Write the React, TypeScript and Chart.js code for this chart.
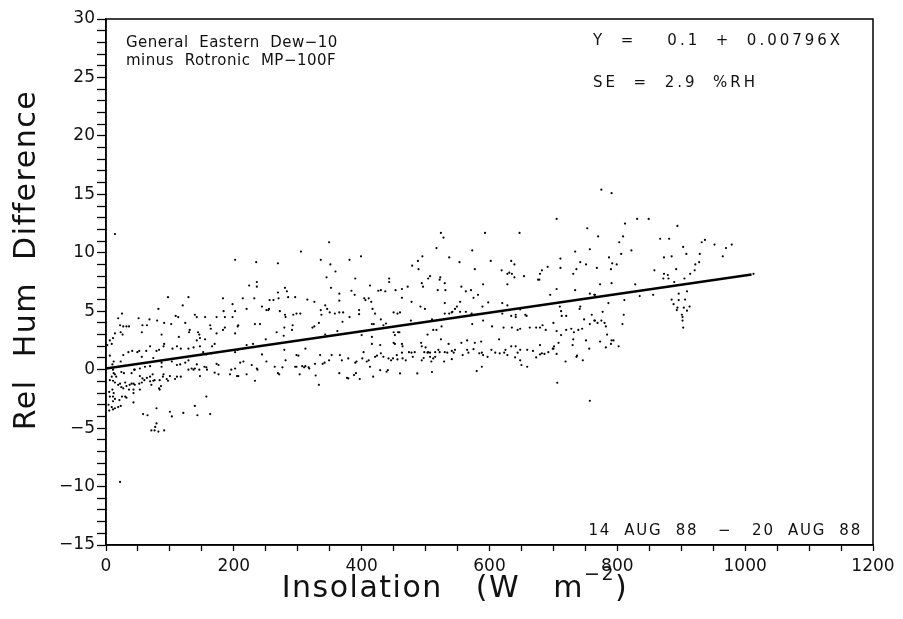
import React, { useEffect, useRef } from 'react';
import { Chart, registerables } from 'chart.js';

Chart.register(...registerables);

// Axis ranges and tick labels
const xRange = [0, 1200];
const yRange = [-15, 30];
const xTickLabels = [0, 200, 400, 600, 800, 1000, 1200];
const yTickLabels = [-15, -10, -5, 0, 5, 10, 15, 20, 25, 30];

// Regression line (fit: Y = 0.1 + 0.00796X)
const lineX = [0, 1010];
const lineY = [0.1, 8.14];

// Annotation texts
const sensorLine1 = 'General  Eastern  Dew\u221210';
const sensorLine2 = 'minus  Rotronic  MP\u2212100F';
const fitText = 'Y  =    0.1  +  0.00796X';
const seText = 'SE  =  2.9  %RH';
const dateText = '14  AUG  88   \u2212   20  AUG  88';
const yTitle = 'Rel  Hum  Difference';

// Observations: [insolation W m-2, RH difference %]
const obsLow: [number, number][] = [
  [14,11.6],[202,9.4],[235,9.2],[224,7.2],[236,7.5],[236,7.1],[97,6.2],[129,6.2],[120,5.5],[183,6.1],[198,5.6],[214,6.1],[232,6.1],[82,5.2],[25,4.8],[19,4.4],[51,4.4],[68,4.3],[109,4.6],[113,4.5],[139,4.7],[142,4.5],[155,4.5],[173,4.5],[184,5.0],[186,4.5],[202,5.0],[220,5.2],[244,5.4],[251,5.1],
  [22,3.8],[27,3.7],[32,3.7],[36,3.7],[57,3.8],[64,3.8],[80,4.2],[91,4.0],[102,3.9],[124,4.0],[163,3.8],[164,3.5],[198,4.5],[207,3.8],[206,3.7],[233,3.9],[241,3.9],[23,3.2],[26,3.0],[56,3.2],[87,3.0],[114,2.8],[131,3.4],[130,3.2],[144,3.2],[146,3.0],[173,3.1],[183,3.4],[186,3.6],[202,3.1],
  [6,2.5],[9,2.2],[2,2.1],[14,3.1],[11,2.7],[142,2.5],[147,2.7],[155,2.6],[170,2.2],[166,2.0],[250,2.6],[35,1.5],[41,1.6],[52,1.6],[63,1.6],[69,2.0],[79,1.6],[83,1.7],[90,2.0],[91,2.2],[104,1.8],[111,2.0],[117,1.8],[129,1.8],[137,1.9],[147,2.0],[165,1.4],[152,1.5],[157,1.3],[202,1.5],[206,1.7],[220,2.1],[230,2.2],[244,1.3],[49,1.5],
  [6,1.2],[27,1.25],[23,0.7],[56,1.1],[74,1.0],[10,0.45],[12,0.7],[45,0.0],[53,0.1],[61,0.25],[69,0.3],[87,0.6],[87,0.25],[103,0.7],[111,0.4],[116,0.45],[124,0.6],[129,0.8],[142,0.45],[146,0.0],[154,0.25],[173,0.5],[176,0.4],[196,0.0],[202,0.1],[210,0.6],[215,0.7],[228,0.4],[236,0.1],[237,0.0],[251,0.7],
  [11,0.0],[12,-0.3],[14,-0.4],[9,-0.6],[16,-0.6],[24,-0.2],[28,-0.3],[40,-0.3],[44,0.0],[53,-0.55],[57,-0.75],[64,-0.7],[69,-0.6],[73,-0.4],[90,-0.4],[100,-0.55],[74,-0.95],[76,-0.9],[84,-0.9],[89,-0.6],[95,-0.8],[97,-0.95],[108,-0.8],[111,-0.6],[117,-0.6],[129,0.0],[134,0.1],[137,0.0],[139,0.1],[147,-0.55],[157,0.2],[158,0.0],[170,-0.26],[176,-0.4],[194,-0.4],[205,-0.55],[207,-0.55],[220,-0.4],[233,-0.95],
  [6,-0.9],[11,-0.95],[14,-1.1],[19,-1.3],[22,-1.2],[24,-1.5],[27,-1.6],[30,-1.1],[32,-1.4],[37,-1.3],[40,-1.2],[43,-1.2],[45,-1.3],[52,-1.2],[56,-1.1],[60,-0.9],[36,-1.7],[43,-1.7],[43,-2.0],[53,-1.7],[5,-1.9],[10,-1.7],[12,-2.0],[6,-2.3],[11,-2.3],[14,-2.5],[11,-2.7],[21,-2.6],[25,-2.3],[30,-2.3],[32,-2.4],[83,-1.6],[86,-1.4],[84,-1.7],[69,-1.0],[71,-1.3],[43,-2.8],[157,-2.3],
  [4,-3.0],[9,-3.2],[14,-3.3],[19,-3.2],[23,-3.1],[5,-3.5],[11,-3.4],[79,-3.3],[139,-3.1],[58,-3.8],[65,-3.9],[100,-3.6],[103,-4.0],[121,-3.7],[143,-3.9],[163,-3.8],[79,-4.6],[71,-5.2],[76,-5.2],[82,-5.3],[91,-5.2],[77,-4.9],[22,-9.6]
];

const obsMid: [number, number][] = [
  [349,10.9],[305,10.1],[269,9.1],[336,9.4],[381,9.4],[399,9.7],[351,9.0],[495,9.7],[488,9.3],[479,8.9],[489,8.6],[345,7.9],[359,8.4],[390,7.8],[352,7.0],[443,7.8],[443,7.5],[504,7.8],[494,7.4],[496,7.1],[413,7.2],[426,6.75],[430,6.8],[437,6.7],[453,6.8],[463,6.9],[472,7.1],
  [280,7.0],[283,6.7],[269,6.6],[270,6.1],[256,5.95],[262,5.95],[285,6.2],[296,6.2],[315,6.0],[326,5.8],[365,6.5],[365,5.9],[389,6.4],[384,6.75],[404,6.1],[406,5.95],[411,6.1],[415,5.8],[463,6.15],[478,5.8],
  [254,5.1],[255,5.2],[272,5.0],[280,4.7],[281,4.5],[293,4.7],[298,4.8],[304,4.8],[336,5.1],[337,4.7],[343,5.5],[346,5.2],[350,4.9],[358,4.8],[365,4.9],[371,4.9],[381,4.5],[396,5.1],[396,4.75],[417,5.2],[421,4.8],[450,4.9],[456,4.8],[460,4.9],[492,5.4],[499,5.2],[477,4.2],
  [430,4.3],[434,3.8],[438,3.95],[416,3.9],[419,3.9],[370,4.1],[333,4.0],[323,3.6],[326,3.7],[292,3.8],[291,3.4],[279,3.6],[278,2.9],[267,3.2],[362,3.3],[450,3.2],[452,2.96],[457,3.2],[459,3.2],[400,2.96],[416,2.8],[503,3.0],[343,3.0],
  [452,2.2],[450,2.3],[463,2.2],[464,2.0],[416,2.2],[429,2.1],[493,2.3],[494,2.0],[500,1.9],[504,1.5],[279,1.7],[281,0.8],[312,1.8],[298,1.25],[301,1.2],[264,0.25],[276,0.2],[269,-0.3],[271,-0.4],
  [296,0.25],[298,0.25],[307,0.3],[310,0.2],[312,0.3],[317,0.2],[318,0.1],[303,-0.4],[327,0.5],[328,-0.5],[333,-1.3],[335,1.25],[339,0.5],[342,0.6],[349,0.8],[353,1.25],[365,-0.3],[366,1.25],[369,0.8],[377,-0.7],[379,-0.75],[379,0.96],[388,-0.46],[391,-0.3],[390,0.6],[392,0.7],[397,-0.8],[401,0.96],[403,1.5],[408,0.7],[413,0.25],[411,0.8],[418,-0.6],
  [421,1.1],[424,1.2],[429,-0.04],[430,1.4],[434,1.1],[439,-0.18],[441,-0.04],[442,0.96],[446,0.8],[449,0.96],[455,1.25],[456,0.88],[460,-0.32],[463,1.45],[464,0.96],[469,0.8],[474,1.5],[478,1.45],[480,1.1],[483,1.5],[487,-0.32],[494,0.8],[497,1.0],[498,1.5],[503,1.45],[507,1.1],[509,0.7],[512,0.96],[510,-0.2]
];

const obsHigh: [number, number][] = [
  [705,12.9],[753,12.1],[770,11.4],[524,11.7],[528,11.3],[593,11.7],[647,11.7],[517,10.4],[573,10.2],[537,9.6],[553,9.2],[602,9.3],[634,9.3],[639,9.0],[711,9.5],[711,8.7],[734,10.1],[742,9.2],[751,9.0],[757,10.3],[736,8.6],[768,8.7],[691,8.8],[577,8.6],[619,8.5],[628,8.2],[631,8.3],[635,8.2],[639,7.9],[654,8.0],[682,8.5],[679,8.2],[678,7.7],[676,7.7],[731,8.2],
  [507,8.0],[523,7.9],[522,7.7],[530,7.4],[590,7.3],[628,7.3],[519,6.8],[531,6.8],[556,7.1],[563,6.7],[571,6.8],[582,6.4],[575,6.15],[705,6.9],[695,6.4],[734,6.8],[757,6.5],[764,6.4],[773,7.3],
  [554,5.8],[530,5.7],[598,5.75],[620,5.7],[628,5.5],[589,5.4],[549,5.4],[546,5.2],[542,4.95],[541,4.9],[530,4.8],[537,4.8],[554,4.95],[563,4.95],[572,4.8],[590,4.2],[620,4.8],[634,4.6],[641,4.5],[641,4.7],[648,5.15],[656,4.7],[658,4.6],[710,5.4],[712,5.0],[713,4.6],[720,4.6],[742,5.4],[741,5.2],[748,4.3],[760,4.7],[764,4.2],[757,3.9],
  [510,4.3],[512,3.4],[517,3.4],[525,3.7],[573,3.9],[604,3.7],[622,3.6],[635,3.6],[644,3.4],[648,3.5],[663,3.6],[673,3.6],[679,3.6],[683,3.8],[688,3.4],[700,4.0],[705,3.3],[712,2.96],[720,3.4],[728,3.5],[732,3.2],[739,3.4],[745,3.5],
  [524,2.6],[536,2.2],[556,2.3],[565,2.5],[577,2.3],[587,2.4],[615,2.6],[634,2.0],[641,2.0],[648,1.7],[659,1.7],[668,1.6],[679,2.1],[682,1.4],[686,1.35],[700,1.8],[701,2.0],[705,1.35],[708,2.3],[730,2.1],[731,2.6],[751,2.5],[756,1.8],
  [507,1.45],[515,1.5],[520,1.7],[522,1.5],[530,1.5],[534,1.45],[541,1.6],[544,1.45],[546,1.7],[558,1.25],[565,1.7],[567,1.45],[575,1.75],[584,1.4],[588,1.45],[590,1.25],[597,1.1],[603,1.7],[609,1.45],[616,1.4],[623,1.45],[625,1.7],[628,1.25],[640,1.05],[644,1.45],[648,0.8],[650,0.4],[659,0.25],[673,1.05],[679,1.3],[692,1.5],[699,1.8],[719,0.7],[736,1.1],[737,1.2],[746,0.8],
  [515,1.1],[529,0.7],[541,0.9],[580,-0.12],[588,0.25],[706,-1.12],[757,-2.66]
];

const obsPeak: [number, number][] = [
  [775,15.4],[791,15.1],[831,12.9],[849,12.9],[812,12.5],[894,12.3],[809,11.4],[803,10.9],[867,11.2],[881,11.2],[903,10.5],[932,10.9],[937,11.1],[952,10.7],[970,10.4],[979,10.7],[965,9.7],[822,10.2],[806,9.9],[787,9.6],[792,9.1],[799,9.0],[790,8.6],
  [873,9.6],[885,9.7],[908,9.9],[929,9.9],[922,9.0],[928,9.2],[921,8.5],[914,8.2],[892,8.6],[858,8.5],[873,8.2],[879,8.1],[872,7.8],[880,7.8],[889,7.5],[905,7.8],[791,7.4],[828,7.3],[1013,8.2],
  [856,6.4],[835,6.3],[811,5.95],[786,5.7],[765,6.4],[896,6.5],[909,6.7],[885,6.0],[896,5.95],[906,6.0],[888,5.6],[894,5.3],[893,5.1],[904,5.3],[913,5.4],[909,5.05],[901,4.7],[902,4.5],[902,4.2],[903,3.6],
  [777,4.95],[810,4.7],[765,4.2],[769,4.0],[775,4.2],[780,4.0],[782,3.7],[808,3.9],[784,3.0],[773,2.4],[791,2.5],[794,2.5],[790,2.2],[802,2.0],[782,1.9]
];

const FONT = '"DejaVu Sans", "Liberation Sans", sans-serif';

const overlayPlugin = {
  id: 'overlay',
  afterDraw(chart: any) {
    const { ctx, chartArea: a } = chart;
    ctx.save();
    // frame
    ctx.strokeStyle = '#000';
    ctx.lineWidth = 1.5;
    ctx.strokeRect(a.left, a.top, a.right - a.left, a.bottom - a.top);

    ctx.fillStyle = '#111';
    ctx.textBaseline = 'alphabetic';
    ctx.font = `15px ${FONT}`;
    (ctx as any).letterSpacing = '0.5px';
    ctx.textAlign = 'left';
    ctx.fillText(sensorLine1, a.left + 20, a.top + 28);
    ctx.fillText(sensorLine2, a.left + 20, a.top + 46);
    (ctx as any).letterSpacing = '3px';
    ctx.fillText(fitText, a.left + 487, a.top + 26);
    ctx.fillText(seText, a.left + 487, a.top + 68);
    (ctx as any).letterSpacing = '1.8px';
    ctx.textAlign = 'right';
    ctx.fillText(dateText, a.right - 11, a.bottom - 10);

    // x title with superscript
    (ctx as any).letterSpacing = '1.5px';
    ctx.textAlign = 'left';
    const big = `30px ${FONT}`;
    const small = `19px ${FONT}`;
    const p1 = 'Insolation   (W   m';
    const p2 = '\u22122';
    const p3 = ')';
    ctx.font = big;
    const w1 = ctx.measureText(p1).width;
    const w3 = ctx.measureText(p3).width;
    ctx.font = small;
    const w2 = ctx.measureText(p2).width;
    const total = w1 + w2 + w3;
    const cx = a.left + 349;
    const base = a.bottom + 52;
    let x = cx - total / 2;
    ctx.font = big;
    ctx.fillText(p1, x, base);
    x += w1;
    ctx.font = small;
    ctx.fillText(p2, x, base - 17);
    x += w2;
    ctx.font = big;
    ctx.fillText(p3, x, base);

    // y title
    ctx.save();
    ctx.translate(a.left - 79, a.top + 241);
    ctx.rotate(-Math.PI / 2);
    ctx.textAlign = 'center';
    ctx.textBaseline = 'middle';
    ctx.font = big;
    ctx.fillText(yTitle, 0, 0);
    ctx.restore();

    ctx.restore();
  },
};

export default function App() {
  const ref = useRef<HTMLCanvasElement | null>(null);

  useEffect(() => {
    document.body.style.margin = '0';
    const canvas = ref.current;
    if (!canvas) return;
    const points = [...obsLow, ...obsMid, ...obsHigh, ...obsPeak].map(([x, y]) => ({ x, y }));
    const line = lineX.map((x, i) => ({ x, y: lineY[i] }));

    const chart = new Chart(canvas, {
      type: 'scatter',
      data: {
        datasets: [
          {
            data: points,
            pointRadius: 1.1,
            pointBorderWidth: 0,
            backgroundColor: '#000',
            borderColor: '#000',
          },
          {
            data: line,
            showLine: true,
            pointRadius: 0,
            borderColor: '#000',
            borderWidth: 2.4,
          },
        ],
      },
      options: {
        animation: false,
        responsive: false,
        devicePixelRatio: 1,
        layout: { padding: { left: 0, top: 19, right: 30, bottom: 0 } },
        plugins: { legend: { display: false }, tooltip: { enabled: false } },
        scales: {
          x: {
            type: 'linear',
            min: xRange[0],
            max: xRange[1],
            afterFit(scale: any) { scale.height = 74; },
            border: { display: true, color: '#000', width: 1.5 },
            grid: { drawOnChartArea: false, drawTicks: true, tickLength: 6, color: '#000', tickWidth: 1.3 },
            ticks: {
              stepSize: 50,
              autoSkip: false,
              maxRotation: 0,
              padding: 5,
              color: '#111',
              font: { family: FONT, size: 17 },
              callback: (v: any) => (xTickLabels.includes(Number(v)) ? String(v) : ''),
            },
          },
          y: {
            type: 'linear',
            min: yRange[0],
            max: yRange[1],
            afterFit(scale: any) { scale.width = 106; },
            border: { display: true, color: '#000', width: 1.5 },
            grid: { drawOnChartArea: false, drawTicks: true, tickLength: 9, color: '#000', tickWidth: 1.3 },
            ticks: {
              stepSize: 1,
              autoSkip: false,
              padding: 2,
              color: '#111',
              font: { family: FONT, size: 17 },
              callback: (v: any) =>
                yTickLabels.includes(Number(v)) ? String(v).replace('-', '\u2212') : '',
            },
          },
        },
      },
      plugins: [overlayPlugin],
    });
    return () => chart.destroy();
  }, []);

  return (
    <div style={{ width: 903, height: 619, background: '#fff' }}>
      <canvas ref={ref} width={903} height={619} style={{ display: 'block' }} />
    </div>
  );
}
